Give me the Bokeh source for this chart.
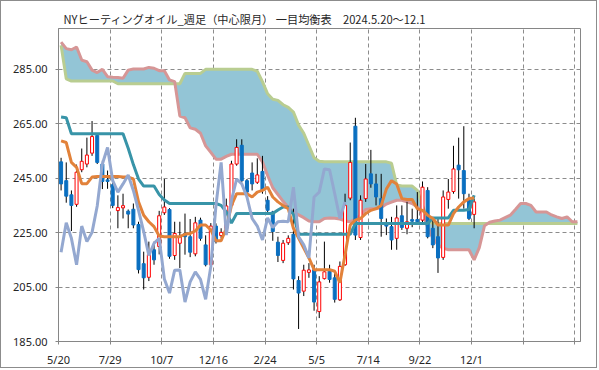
from bokeh.plotting import figure
from bokeh.models import Range1d, FixedTicker, NumeralTickFormatter
from bokeh.embed import file_html
from bokeh.resources import INLINE

# ---- data (weekly, 2024-05-20 .. 2025-12-01) ----
tick_weeks = [0, 10, 20, 30, 40, 50, 60, 70, 80, 90, 100]
tick_labels = ["5/20", "7/29", "10/7", "12/16", "2/24", "5/5", "7/14", "9/22", "12/1", "", ""]

opens = [251.0, 244.1, 238.9, 235.4, 248.1, 250.2, 254.2, 260.7, 250.2, 244.4,
         242.6, 233.1, 234.1, 232.9, 233.6, 228.0, 213.6, 208.6, 218.7, 219.9,
         232.3, 233.5, 216.6, 221.1, 224.7, 223.5, 217.2, 229.6, 220.5, 213.2,
         227.4, 223.9, 226.5, 235.0, 250.2, 257.1, 244.1, 246.9, 243.5, 247.5,
         236.9, 232.6, 221.5, 214.8, 221.3, 224.4, 207.4, 203.5, 210.4, 211.4,
         196.0, 208.1, 210.8, 208.4, 200.3, 213.2, 237.7, 264.1, 223.2, 237.5,
         246.6, 242.9, 237.5, 227.8, 227.2, 222.9, 231.2, 226.6, 229.8, 229.8,
         229.6, 240.5, 226.6, 223.5, 215.9, 237.2, 240.1, 249.8, 247.8, 236.9,
         231.7]
highs = [252.5, 250.8, 240.5, 250.0, 255.9, 259.9, 266.0, 261.5, 251.5, 247.8,
         243.5, 238.7, 239.3, 233.5, 235.7, 229.0, 218.0, 221.7, 221.7, 233.0,
         244.7, 234.0, 229.0, 229.0, 232.0, 230.0, 230.8, 230.5, 224.0, 228.5,
         228.4, 226.6, 237.5, 251.4, 259.3, 259.3, 244.7, 250.8, 252.3, 253.2,
         238.4, 233.0, 223.5, 222.3, 224.0, 233.8, 209.0, 213.2, 213.8, 213.2,
         209.0, 221.7, 213.2, 210.8, 214.4, 239.3, 258.1, 267.2, 238.7, 250.2,
         255.4, 246.6, 246.6, 230.2, 230.8, 235.0, 235.0, 236.3, 233.8, 239.9,
         243.8, 241.7, 230.8, 230.2, 240.5, 244.7, 256.9, 259.9, 264.1, 239.3,
         237.5]
lows = [240.5, 236.0, 225.6, 234.5, 247.2, 249.0, 253.2, 250.2, 241.0, 241.1,
        234.0, 226.6, 230.2, 226.6, 226.6, 210.0, 204.1, 207.2, 213.2, 217.0,
        231.5, 215.4, 215.0, 212.0, 216.9, 216.0, 216.3, 222.0, 212.6, 212.0,
        221.0, 222.9, 225.0, 234.4, 249.6, 243.5, 239.3, 240.5, 242.9, 239.3,
        232.6, 222.0, 214.2, 213.8, 220.5, 204.1, 189.6, 201.7, 208.4, 196.3,
        193.6, 207.8, 206.6, 199.3, 199.9, 212.8, 236.9, 222.3, 222.3, 236.3,
        241.5, 235.0, 223.5, 224.1, 218.7, 218.7, 226.0, 224.4, 227.0, 228.4,
        228.4, 222.9, 219.3, 210.2, 215.0, 233.8, 239.3, 237.5, 233.8, 229.6,
        226.6]
closes = [242.9, 238.4, 235.0, 247.2, 251.2, 253.5, 260.3, 250.8, 243.8, 243.8,
          235.0, 234.2, 234.9, 231.8, 227.8, 211.4, 208.4, 216.9, 215.0, 231.2,
          234.4, 216.3, 224.7, 223.5, 223.5, 217.8, 228.6, 222.9, 213.2, 227.4,
          221.7, 225.1, 234.8, 250.2, 256.3, 244.1, 239.9, 242.9, 246.2, 240.5,
          233.2, 225.4, 216.6, 221.1, 222.9, 208.0, 202.8, 211.2, 211.3, 199.5,
          206.9, 210.6, 207.8, 200.5, 212.6, 235.0, 250.8, 224.1, 236.9, 244.7,
          242.9, 238.1, 230.2, 227.4, 222.3, 230.4, 226.9, 229.0, 229.2, 229.0,
          241.7, 223.5, 220.5, 215.7, 238.1, 239.9, 248.4, 248.1, 239.3, 230.2,
          236.3]

tenkan = [258.7, 258.1, 250.8, 249.0, 243.0, 243.0, 245.4, 245.6, 245.6, 245.6,
          245.6, 245.6, 245.4, 245.4, 244.7, 236.3, 231.4, 229.0, 227.2, 223.8,
          223.5, 223.5, 223.5, 223.5, 224.4, 224.7, 225.6, 227.8, 227.8, 226.0,
          222.0, 222.0, 226.6, 235.0, 239.3, 239.3, 239.3, 238.1, 239.9, 240.5,
          241.7, 238.1, 236.3, 235.0, 233.8, 226.6, 223.0, 219.3, 215.7, 211.4,
          211.4, 211.4, 211.4, 210.8, 206.6, 216.9, 227.8, 229.6, 230.2, 232.0,
          233.2, 233.8, 235.0, 241.0, 244.1, 242.9, 237.5, 237.2, 237.2, 233.8,
          233.2, 231.4, 230.2, 227.8, 227.8, 227.8, 232.0, 234.4, 236.3, 237.5,
          237.7]
kijun = [267.5, 267.2, 261.3, 261.3, 261.3, 261.3, 261.3, 261.3, 261.3, 261.3,
         261.3, 261.3, 261.3, 256.0, 250.0, 244.7, 242.1, 242.1, 242.1, 239.0,
         237.0, 235.7, 235.7, 235.7, 235.7, 235.7, 235.7, 235.7, 235.7, 235.7,
         235.7, 235.0, 232.6, 228.5, 232.0, 232.0, 232.0, 232.0, 232.0, 232.0,
         232.0, 232.0, 233.3, 234.4, 234.4, 231.7, 224.4, 224.4, 224.4, 224.4,
         224.4, 224.4, 224.4, 224.4, 224.4, 224.4, 224.4, 228.4, 228.4, 228.4,
         228.4, 228.4, 228.4, 228.4, 228.4, 228.4, 228.4, 228.4, 228.4, 228.4,
         228.4, 228.4, 230.4, 230.4, 230.4, 230.4, 233.2, 233.2, 233.2, 233.5,
         238.7]
span_a = [295.0, 292.6, 292.2, 293.2, 288.4, 287.8, 284.7, 283.8, 285.0, 282.3,
          282.1, 282.0, 281.7, 284.7, 285.1, 285.1, 285.1, 285.7, 285.4, 284.5,
          284.5, 281.1, 280.5, 267.8, 267.2, 263.5, 263.0, 261.5, 256.9, 254.5,
          252.0, 252.0, 253.0, 253.8, 253.8, 253.8, 253.8, 253.8, 253.8, 251.0,
          246.0, 241.5, 239.0, 236.5, 234.3, 232.5, 231.5, 230.5, 229.3, 229.0,
          229.0, 230.2, 230.4, 230.3, 230.0, 229.3, 229.0, 230.0, 231.4, 233.5,
          233.8, 233.8, 234.2, 235.5, 236.2, 236.9, 236.9, 236.3, 235.7, 234.4,
          232.0, 227.0, 223.0, 220.5, 219.3, 218.7, 218.7, 218.7, 218.7, 218.7,
          215.0, 219.5, 227.5, 228.8, 229.3, 229.6, 230.5, 231.4, 233.5, 235.7,
          235.7, 235.0, 232.6, 232.6, 232.6, 231.5, 230.8, 230.2, 230.8, 229.0,
          229.0]
span_b = [293.8, 281.5, 280.7, 280.7, 280.7, 280.7, 280.7, 280.7, 280.7, 280.7,
          280.7, 279.7, 279.7, 279.7, 279.7, 279.7, 279.7, 279.7, 279.7, 279.7,
          279.7, 279.7, 279.7, 279.7, 283.5, 283.5, 283.5, 283.5, 285.0, 285.0,
          285.0, 285.0, 285.0, 285.0, 285.0, 285.0, 285.0, 285.0, 284.3, 280.5,
          276.0, 274.0, 273.6, 272.0, 271.0, 269.3, 264.5, 261.5, 257.0, 252.5,
          251.2, 251.0, 251.0, 251.0, 251.0, 251.0, 251.0, 251.0, 251.0, 251.0,
          251.0, 251.0, 251.0, 251.0, 250.5, 242.5, 242.1, 242.1, 242.1, 240.5,
          235.0, 229.5, 228.4, 228.4, 228.4, 228.4, 228.4, 228.4, 228.4, 228.4,
          228.4, 228.4, 228.4, 228.4, 228.4, 228.4, 228.4, 228.4, 228.4, 228.4,
          228.4, 228.4, 228.4, 228.4, 228.4, 228.4, 228.4, 228.4, 228.4, 228.4,
          228.4]
# lagging span: each close plotted 25 weeks earlier
chikou = closes[25:]

title_text = "NYヒーティングオイル_週足（中心限月） 一目均衡表　2024.5.20～12.1"

# ---- figure ----
p = figure(width=597, height=368, x_range=Range1d(0, 101.1), y_range=Range1d(185, 300),
           output_backend="svg", toolbar_location=None,
           min_border_left=57, min_border_right=18, min_border_top=27, min_border_bottom=25)
p.styles = {"border": "1px solid #8c8c8c"}
p.background_fill_color = "white"
p.border_fill_color = "white"
p.outline_line_color = "#868686"
p.outline_line_width = 1

p.title.text = title_text
p.title.text_font = "Noto Sans CJK JP"
p.title.text_font_size = "11.2px"
p.title.text_font_style = "normal"
p.title.text_color = "#262626"
p.title.align = "left"
p.title.offset = 5
p.title.standoff = 4

grid_col = "#8c8c8c"
p.xaxis.ticker = FixedTicker(ticks=tick_weeks)
p.xaxis.major_label_overrides = {t: l for t, l in zip(tick_weeks, tick_labels)}
p.xgrid.ticker = FixedTicker(ticks=tick_weeks)
p.yaxis.ticker = FixedTicker(ticks=[185, 205, 225, 245, 265, 285])
p.yaxis.formatter = NumeralTickFormatter(format="0.00")
for g in (p.xgrid, p.ygrid):
    g.grid_line_color = grid_col
    g.grid_line_dash = "4 3"
    g.grid_line_width = 1
for ax in (p.xaxis, p.yaxis):
    ax.axis_line_color = "#868686"
    ax.major_tick_line_color = "#868686"
    ax.minor_tick_line_color = None
    ax.major_tick_in = 0
    ax.major_tick_out = 3
    ax.major_label_text_font = "Noto Sans"
    ax.major_label_text_font_size = "11px"
    ax.major_label_text_color = "#262626"
p.yaxis.major_label_standoff = 8
p.xaxis.major_label_standoff = 7

n = len(closes)
xc = [i + 0.5 for i in range(n)]
xs = [i + 0.5 for i in range(len(span_a))]
xk = [i + 0.5 for i in range(len(chikou))]

# cloud
p.varea(x=xs, y1=span_a, y2=span_b, fill_color="#93C5D6", fill_alpha=1.0)
p.line(xs, span_b, line_color="#B9CD91", line_width=3)
p.line(xs, span_a, line_color="#D69696", line_width=3)

# candles
p.segment(x0=xc, y0=lows, x1=xc, y1=highs, line_color="black", line_width=1)
up = [c >= o for o, c in zip(opens, closes)]
ux = [x for x, u in zip(xc, up) if u]
utop = [c for c, u in zip(closes, up) if u]
ubot = [o for o, u in zip(opens, up) if u]
dx = [x for x, u in zip(xc, up) if not u]
dtop = [o for o, u in zip(opens, up) if not u]
dbot = [c for c, u in zip(closes, up) if not u]
p.vbar(x=ux, top=utop, bottom=ubot, width=0.58, fill_color="white", line_color="#FF0000", line_width=1)
p.vbar(x=dx, top=dtop, bottom=dbot, width=0.58, fill_color="#0A6FC0", line_color="#0A6FC0", line_width=1)

# lines
p.line(xc, kijun, line_color="#3894A8", line_width=3)
p.line(xc, tenkan, line_color="#E2823A", line_width=3)
p.line(xk, chikou, line_color="#94A8D0", line_width=3)

open("out.html", "w").write(file_html(p, INLINE))
